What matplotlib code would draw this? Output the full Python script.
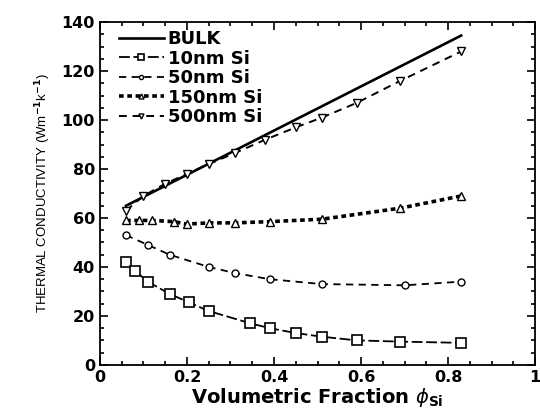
import matplotlib
matplotlib.use("Agg")
import matplotlib.pyplot as plt
from matplotlib.ticker import MultipleLocator, FuncFormatter

plt.rcParams['font.family'] = ['DejaVu Sans']

# data
x_bulk = [0.06, 0.83]
k_bulk = [65, 134.5]

x_10 = [0.06, 0.08, 0.11, 0.16, 0.205, 0.25, 0.345, 0.39, 0.45, 0.51, 0.59, 0.69, 0.83]
k_10 = [42, 38.5, 34, 29, 25.5, 22, 17, 15, 13, 11.5, 10, 9.5, 9]

x_50 = [0.06, 0.11, 0.16, 0.25, 0.31, 0.39, 0.51, 0.70, 0.83]
k_50 = [53, 49, 45, 40, 37.5, 35, 33, 32.5, 34]

x_150 = [0.06, 0.09, 0.12, 0.17, 0.2, 0.25, 0.31, 0.39, 0.51, 0.69, 0.83]
k_150 = [59, 59, 59, 58.5, 57.5, 58, 58, 58.5, 59.5, 64, 69]

x_500 = [0.06, 0.1, 0.15, 0.2, 0.25, 0.31, 0.38, 0.45, 0.51, 0.59, 0.69, 0.83]
k_500 = [63, 69, 74, 78, 82, 86.5, 92, 97, 101, 107, 116, 128]

fig = plt.figure(figsize=(5.4, 4.17), dpi=100)
ax = fig.add_axes([0.185, 0.125, 0.806, 0.822])

ax.plot(x_bulk, k_bulk, '-', color='black', lw=1.9, label='BULK')
ax.plot(x_10, k_10, ls=(0, (6, 2)), color='black', lw=1.3, marker='s',
        ms=7, mfc='white', mec='black', mew=1.2, label='10nm Si')
ax.plot(x_50, k_50, ls=(0, (4, 3)), color='black', lw=1.3, marker='o',
        ms=5, mfc='white', mec='black', mew=1.0, label='50nm Si')
ax.plot(x_150, k_150, ls=(0, (1.3, 1)), color='black', lw=2.6, marker='^',
        ms=6, mfc='white', mec='black', mew=1.0, label='150nm Si')
ax.plot(x_500, k_500, ls=(0, (4, 3)), color='black', lw=1.4, marker='v',
        ms=6, mfc='white', mec='black', mew=1.0, label='500nm Si')

ax.set_xlim(0, 1)
ax.set_ylim(0, 140)
ax.xaxis.set_major_locator(MultipleLocator(0.2))
ax.xaxis.set_minor_locator(MultipleLocator(0.05))
ax.yaxis.set_major_locator(MultipleLocator(20))
ax.yaxis.set_minor_locator(MultipleLocator(5))
ax.xaxis.set_major_formatter(FuncFormatter(lambda v, p: '%g' % round(v, 2)))
ax.tick_params(which='both', direction='in', top=True, right=True, width=1.2)
ax.tick_params(which='major', length=6, labelsize=11.5)
ax.tick_params(which='minor', length=3)
for lab in ax.get_xticklabels() + ax.get_yticklabels():
    lab.set_fontweight('bold')
for sp in ax.spines.values():
    sp.set_linewidth(1.3)

ax.set_xlabel(r'Volumetric Fraction $\phi_{\mathbf{Si}}$', fontsize=14, fontweight='bold', labelpad=1)
ax.set_ylabel(r'THERMAL CONDUCTIVITY (Wm$^{\mathbf{-1}}$k$^{\mathbf{-1}}$)',
              fontsize=9.5, family=['Liberation Sans'], labelpad=6)

leg = ax.legend(loc='upper left', bbox_to_anchor=(0.025, 1.0), frameon=False,
                handlelength=2.5, handletextpad=0.2, labelspacing=0.08,
                borderaxespad=0.15, borderpad=0.3, markerscale=0.6,
                prop={'weight': 'bold', 'size': 13})

fig.savefig('out.png', dpi=100)
